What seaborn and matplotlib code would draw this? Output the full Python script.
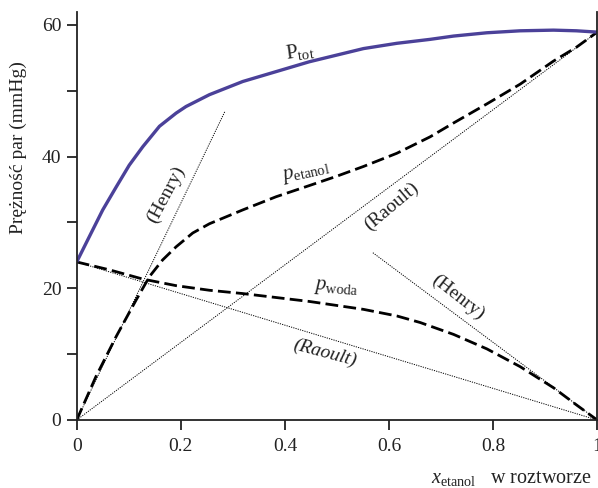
import numpy as np
import pandas as pd
import matplotlib
matplotlib.use("Agg")
import matplotlib.pyplot as plt
import seaborn as sns

# ---- data ----
x_tot = [0, 0.024, 0.05, 0.076, 0.101, 0.127, 0.159, 0.191, 0.21, 0.255, 0.319,
         0.383, 0.447, 0.499, 0.551, 0.615, 0.679, 0.724, 0.788, 0.852, 0.916,
         0.96, 1.0]
p_tot = [24.0, 27.8, 31.9, 35.4, 38.7, 41.5, 44.6, 46.6, 47.6, 49.4, 51.4,
         52.9, 54.4, 55.4, 56.4, 57.2, 57.8, 58.3, 58.8, 59.1, 59.2,
         59.1, 58.9]

x_et = [0, 0.037, 0.076, 0.114, 0.14, 0.165, 0.191, 0.223, 0.255, 0.319, 0.383,
        0.447, 0.499, 0.551, 0.615, 0.679, 0.724, 0.788, 0.852, 0.916, 0.96, 1.0]
p_et = [0, 6.6, 12.7, 18.2, 21.8, 24.3, 26.3, 28.4, 29.8, 31.9, 33.9,
        35.6, 37.0, 38.5, 40.5, 43.0, 45.1, 48.0, 51.0, 54.5, 56.6, 58.9]

x_wo = [0, 0.063, 0.127, 0.191, 0.255, 0.319, 0.383, 0.447, 0.499, 0.551, 0.615,
        0.66, 0.724, 0.788, 0.852, 0.916, 0.96, 1.0]
p_wo = [24.0, 22.8, 21.4, 20.4, 19.7, 19.2, 18.6, 18.0, 17.4, 16.8, 15.8,
        14.8, 13.0, 10.8, 8.1, 4.9, 2.3, 0]

raoult_x = [0, 1]
raoult_et = [0, 58.9]
raoult_wo = [24.0, 0]
henry_et_x = [0, 0.285]
henry_et = [0, 46.9]
henry_wo_x = [0.569, 1.0]
henry_wo = [25.4, 0]

x_ticks = [0, 0.2, 0.4, 0.6, 0.8, 1.0]
x_ticklabels = ["0", "0.2", "0.4", "0.6", "0.8", "1"]
y_ticks = [0, 20, 40, 60]
y_minor = [10, 30, 50]

# ---- style ----
sns.set_style("ticks")
plt.rcParams["font.family"] = ["Liberation Serif", "DejaVu Serif"]
plt.rcParams["mathtext.fontset"] = "custom"
plt.rcParams["mathtext.rm"] = "Liberation Serif"
plt.rcParams["mathtext.it"] = "Liberation Serif:italic"

fig = plt.figure(figsize=(5.98, 4.88), dpi=100)
ax = fig.add_axes([76.7 / 598, 68 / 488, (597.2 - 76.7) / 598, (420 - 11.7) / 488])

blue = "#4B4199"
dash_kw = dict(color="black", lw=2.0, dashes=(4.6, 1.9))
dot_kw = dict(color="black", lw=0.7, linestyle=(0, (1.2, 1.2)))

def draw(x, y, **kw):
    df = pd.DataFrame({"x": x, "y": y})
    ls = kw.pop("linestyle", None)
    dashes = kw.pop("dashes", None)
    sns.lineplot(data=df, x="x", y="y", ax=ax, sort=False, estimator=None, **kw)
    l = ax.lines[-1]
    if ls is not None:
        l.set_linestyle(ls)
    if dashes is not None:
        l.set_dashes(dashes)
    l.set_solid_joinstyle("round")
    l.set_dash_joinstyle("round")
    l.set_solid_capstyle("butt")

draw(raoult_x, raoult_et, **dot_kw)
draw(raoult_x, raoult_wo, **dot_kw)
draw(henry_et_x, henry_et, **dot_kw)
draw(henry_wo_x, henry_wo, **dot_kw)
draw(x_et, p_et, **dash_kw)
draw(x_wo, p_wo, **dash_kw)
draw(x_tot, p_tot, color=blue, lw=2.4)

ax.set_xlim(0, 1)
ax.set_ylim(0, 62)
ax.set_xticks(x_ticks)
ax.set_xticklabels(x_ticklabels)
ax.set_yticks(y_ticks)
ax.set_yticks(y_minor, minor=True)
ax.set_xlabel("")
ax.set_ylabel("")
ax.tick_params(axis="both", which="both", direction="out", length=7, width=1.3,
               labelsize=14, color="#222222", labelcolor="#222222")
ax.tick_params(axis="x", pad=6)
ax.tick_params(axis="y", pad=4)
for s in ["left", "bottom", "right"]:
    ax.spines[s].set_linewidth(1.3)
    ax.spines[s].set_color("#222222")
ax.spines["top"].set_visible(False)
ax.grid(False)

tc = "#222222"
ax.text(0.429, 56.0, r"$\mathrm{P}_{\mathrm{tot}}$", fontsize=15, rotation=8,
        ha="center", va="center", color=tc)
ax.text(0.44, 37.6, r"$p_{\mathrm{etanol}}$", fontsize=15, rotation=12,
        ha="center", va="center", color=tc)
ax.text(0.499, 20.0, r"$p_{\mathrm{woda}}$", fontsize=15, rotation=-4,
        ha="center", va="center", color=tc)
ax.text(0.476, 10.2, "(Raoult)", fontsize=14, rotation=-15, style="italic",
        ha="center", va="center", color=tc)
ax.text(0.605, 32.4, "(Raoult)", fontsize=14, rotation=40,
        ha="center", va="center", color=tc)
ax.text(0.172, 34.3, "(Henry)", fontsize=14, rotation=62,
        ha="center", va="center", color=tc)
ax.text(0.733, 18.7, "(Henry)", fontsize=14, rotation=-38,
        ha="center", va="center", color=tc)

fig.text(18 / 598, (488 - 148) / 488, "Prężność par (mmHg)", rotation=90,
         fontsize=14, ha="center", va="center", color=tc)
fig.text(592 / 598, (488 - 483) / 488, r"$x_{\mathrm{etanol}}$   w roztworze",
         fontsize=14.5, ha="right", va="baseline", color=tc)

fig.savefig("out.png", dpi=100)
